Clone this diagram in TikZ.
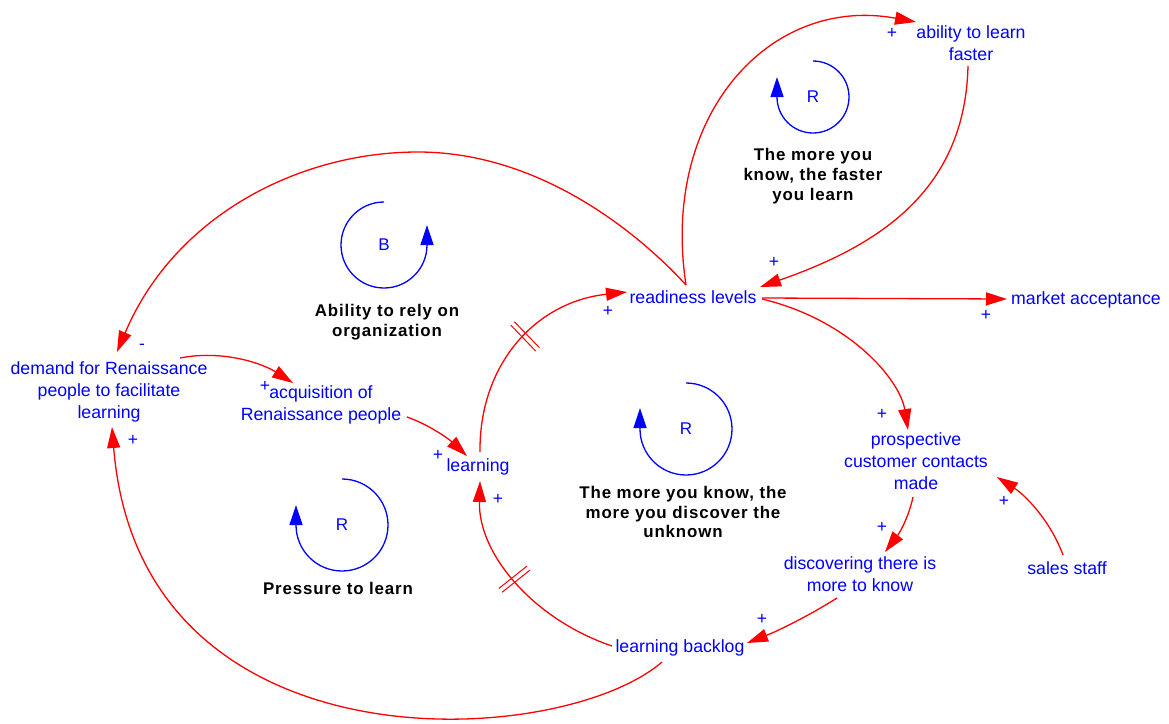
\documentclass[tikz,border=0pt]{standalone}
\usepackage{fontspec}
\setmainfont{Liberation Sans}
\usetikzlibrary{arrows.meta,calc,decorations.markings}
\definecolor{lnk}{RGB}{255,0,0}
\definecolor{vb}{RGB}{0,0,255}
\begin{document}
\begin{tikzpicture}[x=1pt,y=-1pt,
  var/.style={text=vb,font=\fontsize{17.7}{22}\selectfont,align=center,inner sep=0pt},
  loopname/.style={text=black,font=\bfseries\fontsize{16.9}{19.8}\selectfont\addfontfeature{LetterSpace=5},align=center,inner sep=0pt},
  sgn/.style={text=vb,font=\fontsize{17.5}{20}\selectfont,inner sep=0pt},
  looplet/.style={text=vb,font=\fontsize{17}{20}\selectfont,inner sep=0pt},
  link/.style={draw=lnk,line width=1.3pt,-{Triangle[length=21pt,width=13pt]}},
  loopar/.style={draw=vb,line width=1.3pt,-{Triangle[length=20pt,width=13pt]}},
  dslash/.style={postaction={decorate,decoration={markings,mark=at position #1 with {\draw[lnk,line width=1pt,arrows=-] (-2.5,-18) -- (-2.5,18) (2.5,-18) -- (2.5,18);}}}}
]
\useasboundingbox (0,0) rectangle (1169,723);
\fill[white] (0,0) rectangle (1169,723);

% variables
\node[var] (abl) at (971,43) {ability to learn\\faster};
\node[var] (rl) at (693,297) {readiness levels};
\node[var] (mkt) at (1086,300) {market acceptance};
\node[var] (dem) at (109,392) {demand for Renaissance\\people to facilitate\\learning};
\node[var] (acq) at (321,405) {acquisition of\\Renaissance people};
\node[var] (lrn) at (478,467) {learning};
\node[var] (pcc) at (916,461) {prospective\\customer contacts\\made};
\node[var] (disc) at (860,574) {discovering there is\\more to know};
\node[var] (sales) at (1067,568) {sales staff};
\node[var] (back) at (680,648) {learning backlog};

% loop labels
\node[looplet] (r1) at (813,97) {R};
\node[loopname] (n1) at (813,176) {The more you\\know, the faster\\you learn};
\node[looplet] (b1) at (384,245) {B};
\node[loopname] (n2) at (387,322) {Ability to rely on\\organization};
\node[looplet] (r2) at (342,525) {R};
\node[loopname] (n3) at (338,588) {Pressure to learn};
\node[looplet] (r3) at (686,429) {R};
\node[loopname] (n4) at (683,512) {The more you know, the\\more you discover the\\unknown};

% loop arrows
\draw[loopar] ($(r1)+(0,-36)$) arc[start angle=-90,end angle=180,radius=36] -- ++(0,-20);
\draw[loopar] ($(b1)+(0,-43)$) arc[start angle=270,end angle=0,radius=43] -- ++(0,-20);
\draw[loopar] ($(r2)+(0,-46)$) arc[start angle=-90,end angle=180,radius=46] -- ++(0,-20);
\draw[loopar] ($(r3)+(0,-46)$) arc[start angle=-90,end angle=180,radius=46] -- ++(0,-21);

% links
\coordinate (topB) at (418,152);
\draw[link] ($(rl)+(-7,-12)$) .. controls (660,115) and (770,-5) .. ($(abl)+(-55,-21)$);
\draw[link] ($(abl)+(-3,23)$) .. controls (965,190) and (880,245) .. ($(rl)+(67,-10)$);
\draw[link] ($(rl)+(-7,-12)$) .. controls (645,240) and (545,152) .. (topB)
   .. controls (300,152) and (175,215) .. ($(dem)+(8,-40)$);
\draw[link] ($(dem)+(71,-34)$) .. controls (220,350) and (260,362) .. ($(acq)+(-28,-22)$);
\draw[link] ($(acq)+(86,12)$) .. controls (430,425) and (450,440) .. ($(lrn)+(-11,-11)$);
\draw[link,dslash=0.53] ($(lrn)+(2,-15)$) .. controls (479,365) and (535,302) .. ($(rl)+(-66,-5)$);
\draw[link] ($(rl)+(69,1)$) -- ($(mkt)+(-79,-1)$);
\draw[link] ($(rl)+(69,2)$) .. controls (850,320) and (900,380) .. ($(pcc)+(-8,-31)$);
\draw[link] ($(pcc)+(-3,36)$) .. controls (908,520) and (898,535) .. ($(disc)+(25,-22)$);
\draw[link] ($(sales)+(-4,-13)$) .. controls (1050,520) and (1025,495) .. ($(pcc)+(81,16)$);
\draw[link] ($(disc)+(-23,24)$) .. controls (810,615) and (780,630) .. ($(back)+(67,-5)$);
\draw[link,dslash=0.53] ($(back)+(-68,-2)$) .. controls (535,620) and (478,555) .. ($(lrn)+(2,14)$);
\draw[link] ($(back)+(-18,14)$) .. controls (560,750) and (140,775) .. ($(dem)+(3,35)$);

% polarity signs
\node[sgn] (s1) at (892,33) {+};
\node[sgn] (s2) at (774,262) {+};
\node[sgn] (s3) at (608,311) {+};
\node[sgn] (s4) at (986,315) {+};
\node[sgn] (s5) at (142,347) {-};
\node[sgn] (s6) at (133,440) {+};
\node[sgn] (s7) at (265,386) {+};
\node[sgn] (s8) at (438,455) {+};
\node[sgn] (s9) at (498,499) {+};
\node[sgn] (s10) at (882,414) {+};
\node[sgn] (s11) at (1004,501) {+};
\node[sgn] (s12) at (882,527) {+};
\node[sgn] (s13) at (762,619) {+};
\end{tikzpicture}
\end{document}
